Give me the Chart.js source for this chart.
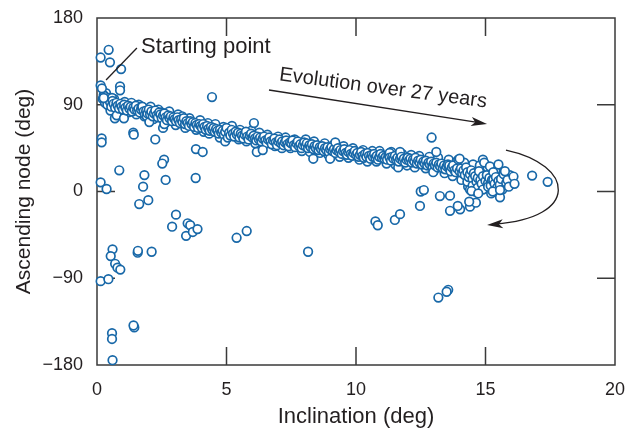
<!DOCTYPE html>
<html>
<head>
<meta charset="utf-8">
<script src="https://cdn.jsdelivr.net/npm/chart.js@4.4.1/dist/chart.umd.min.js"></script>
<style>
	html, body { margin: 0; padding: 0; background: #fff; }
	#wrap { width: 630px; height: 431px; }
</style>
</head>
<body>
<div id="wrap"><canvas id="chart" width="630" height="431"></canvas></div>
<script>
// Axis ticks
var xTicks = [0, 5, 10, 15, 20];
var yTicks = [-180, -90, 0, 90, 180];

// Main band of the node drift: [inclination, ascending node]
var bandPoints = [
	[0.22, 96], [0.26, 100], [0.28, 99], [0.31, 92], [0.36, 95], [0.4, 90], [0.45, 97], [0.5, 93], [0.55, 88], [0.58, 97],
	[0.6, 94], [0.64, 91], [0.69, 76], [0.7, 87], [0.75, 92], [0.76, 79], [0.8, 89], [0.85, 86], [0.9, 91], [0.95, 88],
	[1.0, 85], [1.04, 76], [1.05, 90], [1.1, 87], [1.15, 84], [1.2, 89], [1.25, 86], [1.3, 88], [1.35, 83], [1.4, 87],
	[1.45, 85], [1.5, 89], [1.55, 84], [1.6, 86], [1.65, 82], [1.7, 85], [1.72, 88], [1.75, 88], [1.8, 83], [1.85, 80],
	[1.9, 84], [1.92, 78], [1.95, 81], [2.0, 85], [2.02, 72], [2.05, 80], [2.1, 83], [2.15, 78], [2.2, 81], [2.25, 84],
	[2.3, 79], [2.35, 77], [2.4, 82], [2.45, 80], [2.5, 76], [2.55, 66], [2.55, 79], [2.6, 70], [2.6, 81], [2.65, 77],
	[2.7, 74], [2.75, 79], [2.8, 76], [2.85, 78], [2.9, 73], [2.95, 77], [3.0, 75], [3.05, 73], [3.1, 77], [3.15, 74],
	[3.2, 71], [3.25, 75], [3.3, 72], [3.35, 76], [3.4, 70], [3.45, 73], [3.5, 71], [3.55, 68], [3.6, 73], [3.65, 70],
	[3.7, 72], [3.75, 67], [3.8, 71], [3.85, 69], [3.9, 66], [3.95, 70], [4.0, 68], [4.05, 66], [4.1, 70], [4.15, 67],
	[4.2, 64], [4.25, 68], [4.3, 65], [4.35, 63], [4.4, 67], [4.45, 64], [4.5, 66], [4.55, 62], [4.6, 65], [4.65, 63],
	[4.7, 60], [4.75, 64], [4.8, 61], [4.85, 63], [4.9, 59], [4.95, 52], [4.95, 62], [5.0, 66], [5.05, 56], [5.1, 61],
	[5.15, 58], [5.2, 64], [5.25, 60], [5.3, 57], [5.35, 62], [5.4, 59], [5.45, 61], [5.5, 56], [5.55, 60], [5.6, 58],
	[5.65, 55], [5.7, 59], [5.75, 62], [5.8, 57], [5.85, 54], [5.9, 58], [5.95, 60], [6.0, 56], [6.05, 58], [6.1, 55],
	[6.15, 53], [6.2, 57], [6.25, 54], [6.3, 56], [6.35, 52], [6.4, 55], [6.45, 57], [6.5, 53], [6.55, 50], [6.6, 54],
	[6.65, 56], [6.7, 52], [6.75, 49], [6.8, 53], [6.85, 55], [6.9, 51], [6.95, 48], [7.0, 52], [7.05, 54], [7.1, 50],
	[7.15, 52], [7.2, 48], [7.25, 51], [7.3, 53], [7.35, 49], [7.4, 47], [7.45, 51], [7.5, 50], [7.55, 53], [7.6, 48],
	[7.65, 46], [7.7, 50], [7.75, 52], [7.8, 47], [7.85, 49], [7.9, 45], [7.95, 48], [8.0, 51], [8.05, 47], [8.1, 50],
	[8.15, 45], [8.2, 48], [8.25, 46], [8.3, 49], [8.35, 44], [8.4, 47], [8.45, 45], [8.5, 48], [8.55, 43], [8.6, 46],
	[8.65, 44], [8.7, 47], [8.75, 42], [8.8, 45], [8.85, 43], [8.9, 46], [8.95, 41], [9.0, 44], [9.0, 34], [9.05, 46],
	[9.1, 42], [9.15, 44], [9.2, 51], [9.2, 40], [9.25, 43], [9.3, 45], [9.35, 41], [9.4, 43], [9.45, 39], [9.5, 42],
	[9.55, 44], [9.6, 40], [9.65, 38], [9.7, 41], [9.75, 43], [9.8, 39], [9.85, 37], [9.9, 40], [9.95, 42], [10.0, 38],
	[10.05, 40], [10.1, 36], [10.15, 38], [10.2, 41], [10.25, 37], [10.3, 35], [10.35, 39], [10.4, 36], [10.45, 40], [10.5, 37],
	[10.55, 34], [10.6, 38], [10.65, 36], [10.7, 39], [10.75, 35], [10.8, 37], [10.85, 33], [10.9, 36], [10.95, 39], [11.0, 35],
	[11.05, 37], [11.1, 34], [11.15, 36], [11.2, 33], [11.25, 38], [11.3, 40], [11.3, 35], [11.35, 32], [11.4, 36], [11.45, 34],
	[11.5, 37], [11.55, 33], [11.6, 35], [11.63, 25], [11.65, 31], [11.7, 41], [11.7, 34], [11.75, 36], [11.8, 32], [11.85, 34],
	[11.9, 30], [11.95, 33], [12.0, 35], [12.05, 32], [12.1, 34], [12.15, 30], [12.2, 33], [12.25, 31], [12.3, 35], [12.35, 29],
	[12.4, 32], [12.45, 30], [12.5, 33], [12.55, 28], [12.6, 31], [12.65, 29], [12.7, 32], [12.75, 27], [12.8, 30], [12.85, 28],
	[12.9, 31], [12.95, 26], [12.98, 20], [13.0, 29], [13.05, 27], [13.1, 41], [13.1, 30], [13.15, 25], [13.2, 28], [13.25, 26],
	[13.3, 29], [13.35, 24], [13.4, 27], [13.45, 23], [13.5, 26], [13.55, 28], [13.6, 24], [13.6, 27], [13.65, 21], [13.7, 25],
	[13.75, 27], [13.8, 22], [13.85, 20], [13.9, 24], [13.95, 33], [14.0, 21], [14.0, 34], [14.05, 24], [14.1, 19], [14.15, 22],
	[14.2, 17], [14.25, 25], [14.3, 20], [14.3, 10], [14.35, 15], [14.4, 18], [14.4, 2], [14.45, 22], [14.5, 13], [14.5, 6],
	[14.55, 19], [14.6, 16], [14.65, 10], [14.7, 14], [14.7, 4], [14.75, 21], [14.8, 12], [14.85, 8], [14.9, 16], [14.9, 33],
	[14.9, 2], [14.95, 30], [15.0, 11], [15.05, 17], [15.1, 9], [15.1, 5], [15.15, 14], [15.17, 26], [15.2, 6], [15.25, 12],
	[15.3, 20], [15.3, 12], [15.35, 8], [15.4, 15], [15.45, 4], [15.5, 28], [15.5, 11], [15.55, 7], [15.6, 13], [15.65, 2],
	[15.7, 18], [15.75, 21], [15.8, 9], [15.85, 12], [15.9, 5]
];

// Points on the upper and lower edges of the band
var bandEdgePoints = [
	[0.35, 102], [0.52, 84], [0.66, 96], [0.9, 83], [1.07, 93], [1.21, 82], [1.33, 92], [1.52, 80], [1.61, 90], [1.83, 78],
	[2.07, 88], [2.18, 75], [2.37, 85], [2.49, 82], [2.67, 72], [2.79, 83], [3.04, 69], [3.13, 80], [3.29, 78], [3.41, 66],
	[3.57, 76], [3.83, 64], [3.98, 74], [4.12, 62], [4.28, 71], [4.33, 60], [4.57, 70], [4.74, 56], [4.88, 67], [5.09, 57],
	[5.21, 68], [5.47, 54], [5.52, 64], [5.77, 52], [5.96, 63], [6.11, 50], [6.27, 61], [6.42, 48], [6.58, 59], [6.87, 47],
	[6.99, 57], [7.14, 45], [7.28, 56], [7.47, 45], [7.63, 54], [7.91, 42], [8.06, 54], [8.22, 41], [8.38, 52], [8.61, 40],
	[8.79, 50], [8.93, 38], [9.12, 48], [9.37, 36], [9.52, 47], [9.71, 35], [9.88, 45], [10.13, 33], [10.27, 43], [10.44, 31],
	[10.63, 42], [10.79, 31], [10.91, 42], [11.18, 29], [11.36, 41], [11.52, 28], [11.78, 39], [11.97, 27], [12.13, 38], [12.27, 25],
	[12.44, 37], [12.69, 24], [12.83, 36], [13.02, 22], [13.17, 35], [13.42, 19], [13.58, 33], [13.73, 16], [13.88, 31], [14.07, 12],
	[14.18, 30], [14.33, 5], [14.52, 28], [14.61, 0], [14.78, 27], [14.97, 3], [15.08, 25], [15.22, -2], [15.38, 22], [15.52, 1],
	[15.67, 16], [15.88, 7], [15.94, 17]
];

// Scattered points off the band
var scatterPoints = [
	[0.14, 139], [0.45, 147], [0.5, 134], [0.93, 127], [0.14, 110], [0.19, 107], [0.89, 109], [0.89, 105], [0.26, 97], [4.44, 98],
	[6.06, 71], [0.18, 55], [0.18, 51], [1.4, 61], [1.42, 59], [2.25, 54], [6.17, 41], [6.4, 43], [8.35, 34], [3.82, 44],
	[4.08, 41], [2.59, 33], [2.52, 29], [0.86, 22], [0.14, 9.5], [0.37, 2.6], [1.83, 17], [1.78, 5], [2.65, 12], [3.81, 14],
	[1.63, -13], [1.98, -9], [3.05, -24], [2.9, -36.5], [3.5, -33], [3.6, -35], [3.44, -46], [3.7, -42], [3.88, -39], [5.39, -48],
	[5.78, -41], [8.15, -62.5], [1.57, -63.5], [1.58, -61.5], [2.11, -62.5], [0.6, -60], [0.53, -67], [0.7, -75], [0.79, -79], [0.9, -81],
	[0.14, -93], [0.44, -91], [1.44, -141], [1.41, -139], [0.58, -147], [0.58, -153], [0.6, -175],
	[10.75, -31], [10.84, -35], [11.5, -29.5], [11.7, -23.5], [12.47, -15], [13.63, -20], [14.02, -18.5], [13.93, -15], [14.4, -15.7], [14.63, -11.6],
	[14.37, -10.6], [13.18, -110], [13.56, -102], [13.5, -104], [12.92, 56], [16.8, 16.5], [17.4, 10], [16.08, 15.5], [16.12, 8],
	[12.5, 0], [12.62, 1.5], [13.24, -4.7], [13.63, -4.3], [14.46, 0.5], [14.72, -2], [15.28, 0], [15.56, -6], [15.56, 1.5]
];

var markColor = '#1868a8';
var inkColor = '#231f20';
var fontName = '"Liberation Sans", Arial, Helvetica, sans-serif';

function toXY(list) {
	return list.map(function (p) {
		return { x: p[0], y: p[1] };
	});
}

function px(chart, x, y) {
	return [chart.scales.x.getPixelForValue(x), chart.scales.y.getPixelForValue(y)];
}

// Filled arrow head pointing along angle, tip at (x, y)
function arrowHead(ctx, x, y, angle) {
	var len = 16, half = 4.5, notch = 4;
	ctx.save();
	ctx.translate(x, y);
	ctx.rotate(angle);
	ctx.beginPath();
	ctx.moveTo(0, 0);
	ctx.lineTo(-len, -half);
	ctx.lineTo(-len + notch, 0);
	ctx.lineTo(-len, half);
	ctx.closePath();
	ctx.fill();
	ctx.restore();
}

// Box around the plot with inward ticks
var framePlugin = {
	id: 'frame',
	beforeDatasetsDraw: function (chart) {
		var ctx = chart.ctx,
			a = chart.chartArea,
			xs = chart.scales.x,
			ys = chart.scales.y,
			tick = 18;
		ctx.save();
		ctx.strokeStyle = '#3a3a3a';
		ctx.lineWidth = 1.5;
		ctx.strokeRect(a.left, a.top, a.right - a.left, a.bottom - a.top);
		ctx.beginPath();
		xTicks.slice(1, -1).forEach(function (v) {
			var p = xs.getPixelForValue(v);
			ctx.moveTo(p, a.bottom);
			ctx.lineTo(p, a.bottom - tick);
			ctx.moveTo(p, a.top);
			ctx.lineTo(p, a.top + tick);
		});
		yTicks.slice(1, -1).forEach(function (v) {
			var p = ys.getPixelForValue(v);
			ctx.moveTo(a.left, p);
			ctx.lineTo(a.left + tick, p);
			ctx.moveTo(a.right, p);
			ctx.lineTo(a.right - tick, p);
		});
		ctx.stroke();
		ctx.restore();
	}
};

// Text and arrows, placed in data units
var notesPlugin = {
	id: 'notes',
	afterDatasetsDraw: function (chart) {
		var ctx = chart.ctx, p, q, c1, c2, c3;
		ctx.save();
		ctx.fillStyle = inkColor;
		ctx.strokeStyle = inkColor;
		ctx.lineWidth = 1.3;

		// Starting point label and leader
		ctx.font = '22px ' + fontName;
		p = px(chart, 1.7, 150);
		ctx.textAlign = 'left';
		ctx.textBaseline = 'middle';
		ctx.fillText('Starting point', p[0], p[1]);
		p = px(chart, 1.54, 148.9);
		q = px(chart, 0.35, 115.7);
		ctx.beginPath();
		ctx.moveTo(p[0], p[1]);
		ctx.lineTo(q[0], q[1]);
		ctx.stroke();

		// Evolution arrow
		p = px(chart, 6.64, 105.3);
		q = px(chart, 15.06, 70);
		ctx.beginPath();
		ctx.moveTo(p[0], p[1]);
		ctx.lineTo(q[0] - 8, q[1] - 1.3);
		ctx.stroke();
		arrowHead(ctx, q[0], q[1], Math.atan2(q[1] - p[1], q[0] - p[0]));

		ctx.font = '20px ' + fontName;
		p = px(chart, 11.05, 107);
		ctx.save();
		ctx.translate(p[0], p[1]);
		ctx.rotate(7.5 * Math.PI / 180);
		ctx.textAlign = 'center';
		ctx.fillText('Evolution over 27 years', 0, 0);
		ctx.restore();

		// Curved return arrow
		p = px(chart, 15.79, 43);
		c1 = px(chart, 18.46, 27.5);
		c2 = px(chart, 18.65, -27.5);
		c3 = px(chart, 15.06, -34.8);
		ctx.beginPath();
		ctx.moveTo(p[0], p[1]);
		ctx.bezierCurveTo(c1[0], c1[1], c2[0], c2[1], c3[0] + 8, c3[1] - 1);
		ctx.stroke();
		arrowHead(ctx, c3[0], c3[1], Math.atan2(c3[1] - c2[1], c3[0] - c2[0]));
		ctx.restore();
	}
};

var tickFont = { family: fontName, size: 18 };

function markSet(list) {
	return {
		data: toXY(list),
		borderColor: markColor,
		backgroundColor: '#ffffff',
		borderWidth: 1.7,
		pointRadius: 4.3,
		clip: false,
	};
}

new Chart(document.getElementById('chart'), {
	type: 'scatter',
	data: {
		datasets: [markSet(scatterPoints), markSet(bandPoints), markSet(bandEdgePoints)],
	},
	options: {
		responsive: false,
		animation: false,
		events: [],
		layout: { padding: { top: 18, right: 15, left: 0, bottom: 0 } },
		plugins: {
			legend: { display: false },
			tooltip: { enabled: false },
		},
		scales: {
			x: {
				type: 'linear',
				min: 0,
				max: 20,
				afterBuildTicks: function (scale) {
					scale.ticks = xTicks.map(function (v) { return { value: v }; });
				},
				afterFit: function (scale) {
					scale.height = 66;
					scale.paddingLeft = 0;
					scale.paddingRight = 0;
				},
				grid: { display: false, drawTicks: false },
				border: { display: false },
				ticks: { font: tickFont, color: inkColor, padding: 14, maxRotation: 0 },
				title: {
					display: true,
					text: 'Inclination (deg)',
					font: { family: fontName, size: 22 },
					color: inkColor,
					padding: { top: 1, bottom: 1 },
				},
			},
			y: {
				type: 'linear',
				min: -180,
				max: 180,
				afterBuildTicks: function (scale) {
					scale.ticks = yTicks.map(function (v) { return { value: v }; });
				},
				afterFit: function (scale) {
					scale.width = 97;
					scale.paddingTop = 0;
					scale.paddingBottom = 0;
				},
				grid: { display: false, drawTicks: false },
				border: { display: false },
				ticks: {
					font: tickFont,
					color: inkColor,
					padding: 14,
					callback: function (v) {
						return v < 0 ? '\u2212' + Math.abs(v) : String(v);
					},
				},
				title: {
					display: true,
					text: 'Ascending node (deg)',
					font: { family: fontName, size: 21 },
					color: inkColor,
					padding: { top: 12, bottom: 12 },
				},
			},
		},
	},
	plugins: [framePlugin, notesPlugin],
});
</script>
</body>
</html>
